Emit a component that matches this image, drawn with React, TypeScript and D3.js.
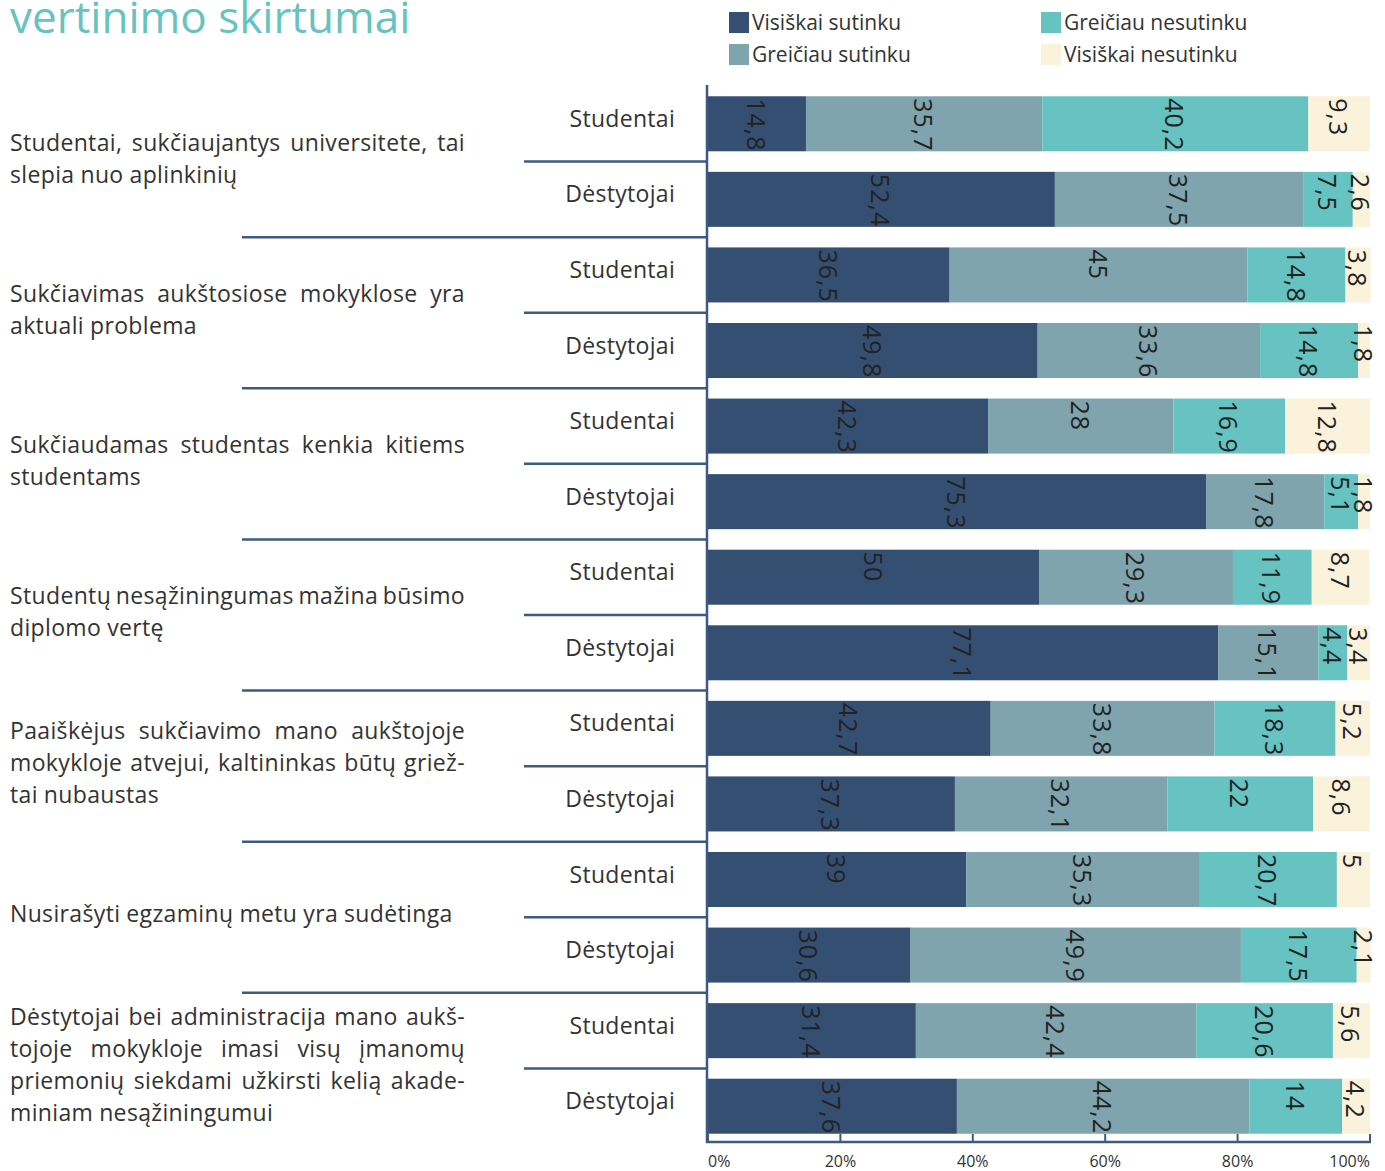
import React, { useEffect, useRef } from 'react';
import * as d3 from 'd3';

// Answer categories (legend order = stack order)
const answers = ['Visiškai sutinku', 'Greičiau sutinku', 'Greičiau nesutinku', 'Visiškai nesutinku'];
const answerColors = ['#354f72', '#7fa4ad', '#66c3c1', '#fbf2dc'];

const groups = ['Studentai', 'Dėstytojai'];

// Statements, broken into lines as in the original
const questions = [
  ['Studentai, sukčiaujantys universitete, tai', 'slepia nuo aplinkinių'],
  ['Sukčiavimas aukštosiose mokyklose yra', 'aktuali problema'],
  ['Sukčiaudamas studentas kenkia kitiems', 'studentams'],
  ['Studentų nesąžiningumas mažina būsimo', 'diplomo vertę'],
  ['Paaiškėjus sukčiavimo mano aukštojoje', 'mokykloje atvejui, kaltininkas būtų griež-', 'tai nubaustas'],
  ['Nusirašyti egzaminų metu yra sudėtinga'],
  [
    'Dėstytojai bei administracija mano aukš-',
    'tojoje mokykloje imasi visų įmanomų',
    'priemonių siekdami užkirsti kelią akade-',
    'miniam nesąžiningumui',
  ],
];

// Percentages per statement: [visiškai sutinku, greičiau sutinku, greičiau nesutinku, visiškai nesutinku]
const studentai = [
  [14.8, 35.7, 40.2, 9.3],
  [36.5, 45, 14.8, 3.8],
  [42.3, 28, 16.9, 12.8],
  [50, 29.3, 11.9, 8.7],
  [42.7, 33.8, 18.3, 5.2],
  [39, 35.3, 20.7, 5],
  [31.4, 42.4, 20.6, 5.6],
];
const destytojai = [
  [52.4, 37.5, 7.5, 2.6],
  [49.8, 33.6, 14.8, 1.8],
  [75.3, 17.8, 5.1, 1.8],
  [77.1, 15.1, 4.4, 3.4],
  [37.3, 32.1, 22, 8.6],
  [30.6, 49.9, 17.5, 2.1],
  [37.6, 44.2, 14, 4.2],
];

const xTicks = [0, 20, 40, 60, 80, 100];

const W = 1385;
const H = 1171;
const FONT = '"Open Sans", sans-serif';
const axisColor = '#3d5a80';
const textColor = '#333';

type Row = { id: string; q: number; group: string; [k: string]: any };

const rows: Row[] = questions.flatMap((_, i) => [
  { id: `${i}-s`, q: i, group: groups[0], ...Object.fromEntries(answers.map((a, j) => [a, studentai[i][j]])) },
  { id: `${i}-d`, q: i, group: groups[1], ...Object.fromEntries(answers.map((a, j) => [a, destytojai[i][j]])) },
]);

const fmt = (v: number) => String(v).replace('.', ',');

const App = () => {
  const qRef = useRef<SVGGElement>(null);

  const x = d3.scaleLinear().domain([0, 100]).range([708, 1370]);
  const y = d3
    .scaleBand()
    .domain(rows.map((r) => r.id))
    .range([86, 1144])
    .paddingInner(0.272)
    .paddingOuter(0.136);
  const bw = y.bandwidth();
  const gap = y.step() - bw;

  const series = d3.stack<Row>().keys(answers)(rows);

  // question texts, justified like the source layout
  useEffect(() => {
    const g = d3.select(qRef.current);
    g.selectAll('*').remove();
    const left = 10;
    const textW = 455;
    const lineH = 32;
    const fs = 23;
    const ls = 0.35;
    questions.forEach((lines, qi) => {
      const y0 = y(rows[2 * qi].id)!;
      const y1 = y(rows[2 * qi + 1].id)! + bw;
      const cy = (y0 + y1) / 2 - 4;
      const top = cy - ((lines.length - 1) * lineH) / 2;
      lines.forEach((line, li) => {
        const words = line.split(' ');
        const t = g
          .append('text')
          .attr('y', top + li * lineH)
          .attr('dominant-baseline', 'central')
          .attr('font-family', FONT)
          .attr('font-size', fs)
          .attr('letter-spacing', ls)
          .attr('fill', textColor);
        const spans = words.map((w) => t.append('tspan').text(w));
        const widths = spans.map((s) => (s.node() as SVGTSpanElement).getComputedTextLength());
        const total = d3.sum(widths);
        const last = li === lines.length - 1;
        const space = last || words.length < 2 ? fs * 0.26 : (textW - total) / (words.length - 1);
        let cx = left;
        spans.forEach((s, i) => {
          s.attr('x', cx);
          cx += widths[i] + space;
        });
      });
    });
  }, []);

  return (
    <svg width={W} height={H} style={{ position: 'absolute', left: 0, top: 0, background: '#fff' }}>
      <text x={10} y={33} fill="#66c3c1" fontFamily={FONT} fontSize={44}>
        vertinimo skirtumai
      </text>

      {/* legend */}
      {answers.map((a, i) => {
        const lx = i < 2 ? 729 : 1041;
        const ly = i % 2 === 0 ? 12 : 44;
        return (
          <g key={a}>
            <rect x={lx} y={ly} width={20} height={21} fill={answerColors[i]} />
            <text x={lx + 23} y={ly + 10} dominantBaseline="central" fontFamily={FONT} fontSize={21} fill={textColor}>
              {a}
            </text>
          </g>
        );
      })}

      {/* bars */}
      {series.map((s, si) => (
        <g key={s.key} fill={answerColors[si]}>
          {s.map((d) => (
            <rect key={d.data.id} x={x(d[0])} y={y(d.data.id)} width={x(d[1]) - x(d[0])} height={bw} />
          ))}
        </g>
      ))}

      {/* value labels */}
      {series.map((s) => (
        <g key={s.key + '-lbl'}>
          {s.map((d) => (
            <text
              key={d.data.id}
              transform={`translate(${x((d[0] + d[1]) / 2)},${y(d.data.id)! + 2}) rotate(90)`}
              dominantBaseline="central"
              fontFamily={FONT}
              fontSize={25}
              letterSpacing={1}
              fill="#222"
            >
              {fmt(d.data[s.key])}
            </text>
          ))}
        </g>
      ))}

      {/* group labels */}
      {rows.map((r) => (
        <text
          key={r.id + '-g'}
          x={675}
          y={y(r.id)! + bw / 2 - 6}
          textAnchor="end"
          dominantBaseline="central"
          fontFamily={FONT}
          fontSize={23}
          letterSpacing={0.3}
          fill={textColor}
        >
          {r.group}
        </text>
      ))}

      {/* separators */}
      {rows.slice(0, -1).map((r, i) => {
        const ly = y(r.id)! + bw + gap / 2;
        return (
          <line
            key={r.id + '-sep'}
            x1={i % 2 === 0 ? 524 : 242}
            x2={707}
            y1={ly}
            y2={ly}
            stroke={axisColor}
            strokeWidth={2.5}
          />
        );
      })}

      {/* axes */}
      <line x1={707} x2={707} y1={85} y2={1143} stroke={axisColor} strokeWidth={2.5} />
      <line x1={706} x2={1371} y1={1142} y2={1142} stroke={axisColor} strokeWidth={2.5} />
      {xTicks.map((t, i) => (
        <g key={t}>
          <line x1={x(t)} x2={x(t)} y1={1134} y2={1142} stroke={axisColor} strokeWidth={2} />
          <text
            x={x(t)}
            y={1161}
            textAnchor={i === 0 ? 'start' : i === xTicks.length - 1 ? 'end' : 'middle'}
            dominantBaseline="central"
            fontFamily={FONT}
            fontSize={16}
            fill={textColor}
          >
            {t}%
          </text>
        </g>
      ))}

      <g ref={qRef} />
    </svg>
  );
};

export default App;
